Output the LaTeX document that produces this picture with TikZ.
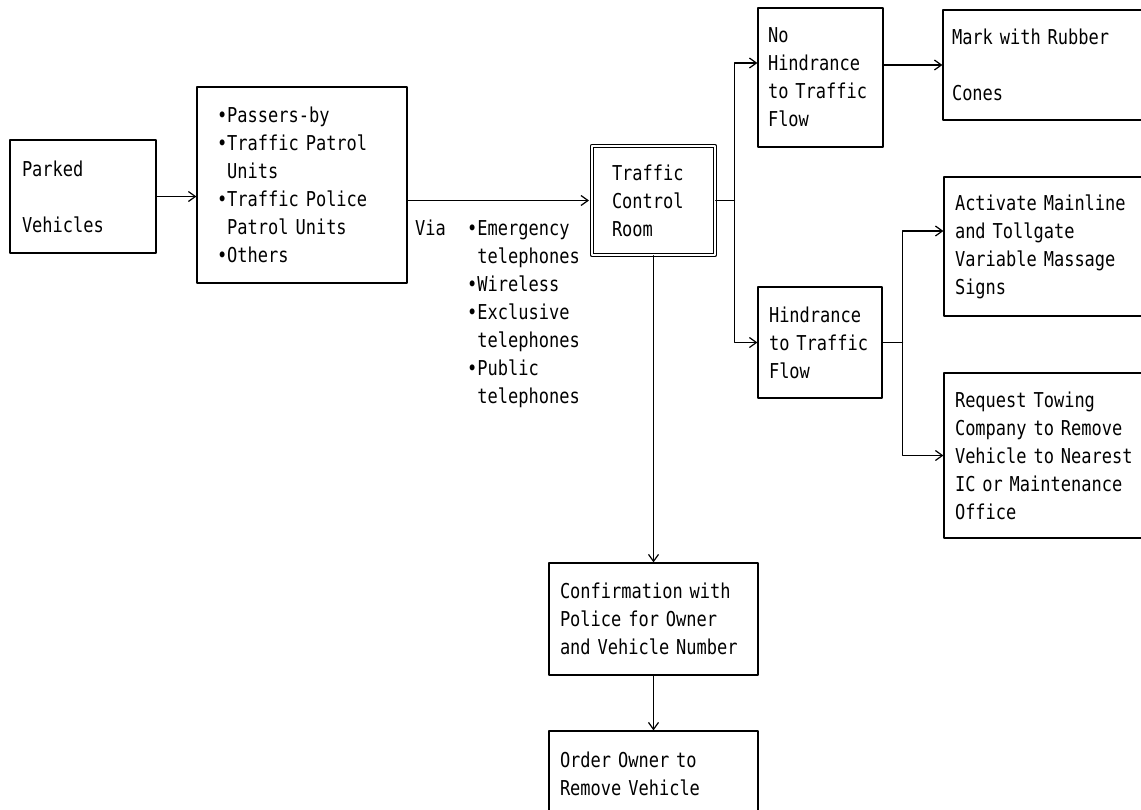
\documentclass[tikz,border=0pt]{standalone}
\usepackage{fontspec}
\newfontfamily\flowfont[FakeStretch=0.83]{DejaVu Sans Mono}
\usetikzlibrary{arrows.meta,calc}
\newcommand{\itm}{•}
\newcommand{\ind}{\phantom{•}}

\begin{document}
\begin{tikzpicture}[x=1pt, y=-1pt, >={Straight Barb[length=7pt,width=10pt]}, line join=round, line cap=round,
	font=\flowfont\fontsize{20.5pt}{28pt}\selectfont,
	box/.style={draw, line width=1.2pt, inner sep=0pt, align=left},
	link/.style={line width=1.2pt}]
	\clip (0,0) rectangle (1141,809);
	% boxes
	\node[box, minimum width=146, minimum height=113, text width=122] (parked) at (83,196.5) {Parked\\\mbox{}\\Vehicles};
	\node[box, minimum width=210, minimum height=196, text width=170] (src) at (302,185)
		{\itm Passers-by\\\itm Traffic Patrol\\\ind Units\\\itm Traffic Police\\\ind Patrol Units\\\itm Others};
	\node[box, double, double distance=2.4pt, minimum width=123, minimum height=109, text width=83] (tcr) at (653.5,200.5)
		{Traffic\\Control\\Room};
	\node[box, minimum width=125, minimum height=139, text width=105] (nohind) at (820.5,77.5) {No\\Hindrance\\to~Traffic\\Flow};
	\node[box, minimum width=124, minimum height=111, text width=102] (hind) at (820,342.5) {Hindrance\\to~Traffic\\Flow};
	\node[box, minimum width=227, minimum height=110, text width=209] (mark) at (1056.5,65) {Mark with Rubber\\\mbox{}\\Cones};
	\node[box, minimum width=226, minimum height=139, text width=204] (act) at (1057,246.5)
		{Activate Mainline\\and Tollgate\\Variable Massage\\Signs};
	\node[box, minimum width=226, minimum height=165, text width=204] (req) at (1057,455.5)
		{Request Towing\\Company to Remove\\Vehicle to Nearest\\IC or Maintenance\\Office};
	\node[box, minimum width=209, minimum height=112, text width=187] (conf) at (653.5,619)
		{Confirmation with\\Police for Owner\\and~Vehicle~Number};
	\node[box, minimum width=209, minimum height=114, text width=187] (order) at (653.5,788)
		{Order Owner to\\Remove Vehicle\\\mbox{}};
	% means of report
	\node[anchor=north west, inner sep=0pt] (via) at (415,220) {Via};
	\node[anchor=north west, inner sep=0pt, align=left] (media) at (467,220)
		{\itm Emergency\\\ind telephones\\\itm Wireless\\\itm Exclusive\\\ind telephones\\\itm Public\\\ind telephones};
	% connectors
	\coordinate (fork) at ($(tcr.east)+(19,0)$);
	\coordinate (fork2) at ($(hind.east)+(20,0)$);
	\draw[link,->] (parked.east) -- (parked.east -| src.west);
	\draw[link,->,shorten >=2.4pt] (src.east |- tcr.west) -- (tcr.west);
	\draw[link] (tcr.east) -- (fork);
	\draw[link,->] (fork) |- ([yshift=14.5pt]nohind.west);
	\draw[link,->] (fork) |- (hind.west);
	\draw[link,->] (nohind.east |- mark.west) -- (mark.west);
	\draw[link] (hind.east) -- (fork2);
	\draw[link,->] (fork2) |- ([yshift=15.5pt]act.west);
	\draw[link,->] (fork2) |- (req.west);
	\draw[link,->] (tcr.south) -- (conf.north);
	\draw[link,->] (conf.south) -- (order.north);
\end{tikzpicture}
\end{document}
